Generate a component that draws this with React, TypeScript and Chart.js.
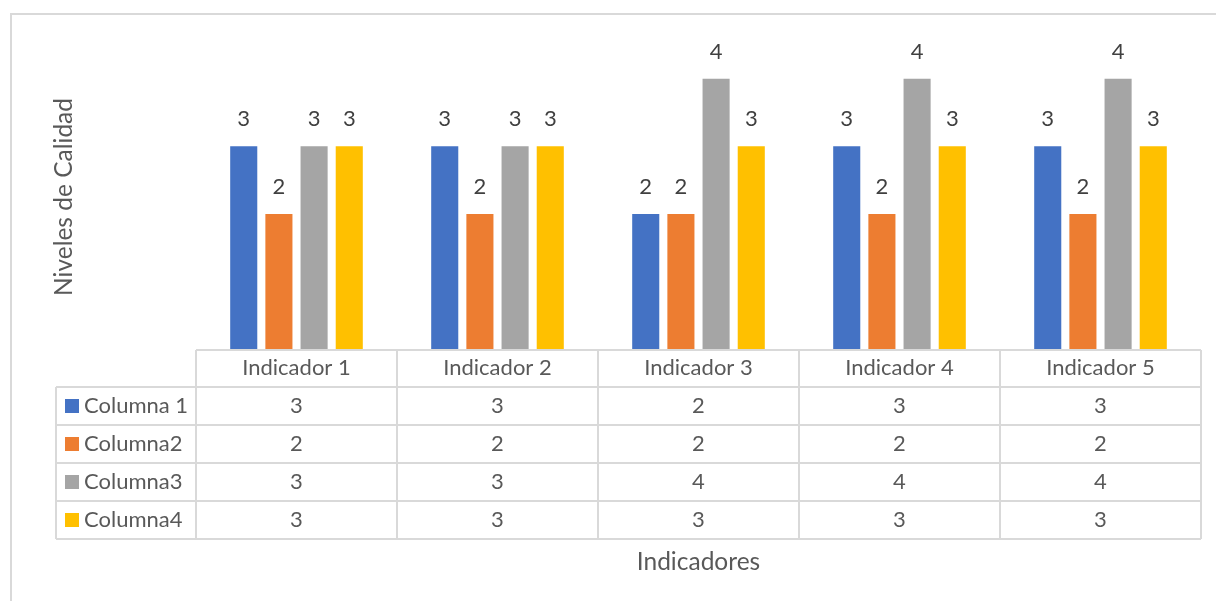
import React, { useEffect, useRef } from "react";
import { Chart, registerables } from "chart.js";

Chart.register(...registerables);

// Chart data
const categories = ["Indicador 1", "Indicador 2", "Indicador 3", "Indicador 4", "Indicador 5"];
const seriesNames = ["Columna 1", "Columna2", "Columna3", "Columna4"];
const columna1 = [3, 3, 2, 3, 3];
const columna2 = [2, 2, 2, 2, 2];
const columna3 = [3, 3, 4, 4, 4];
const columna4 = [3, 3, 3, 3, 3];
const seriesColors = ["#4472C4", "#ED7D31", "#A5A5A5", "#FFC000"];
const yAxisTitle = "Niveles de Calidad";
const xAxisTitle = "Indicadores";

const FONT = "Lato, 'Open Sans', sans-serif";
const GRID = "#D9D9D9";
const TEXT = "#595959";
const LABEL = "#404040";

const W = 1216;
const H = 601;

// Frame, value labels, axis titles and the data table under the plot
const excelDecor = {
  id: "excelDecor",
  beforeDraw(chart: any) {
    const { ctx, width, height } = chart;
    ctx.save();
    ctx.fillStyle = "#FFFFFF";
    ctx.fillRect(0, 0, width, height);
    ctx.strokeStyle = GRID;
    ctx.lineWidth = 2;
    ctx.strokeRect(11, 14, width + 40, height + 40);
    ctx.restore();
  },
  afterDatasetsDraw(chart: any) {
    const { ctx } = chart;
    ctx.save();
    ctx.fillStyle = LABEL;
    ctx.font = `22px ${FONT}`;
    ctx.textAlign = "center";
    ctx.textBaseline = "alphabetic";
    chart.data.datasets.forEach((ds: any, i: number) => {
      const meta = chart.getDatasetMeta(i);
      meta.data.forEach((bar: any, j: number) => {
        ctx.fillText(String(ds.data[j]), bar.x, bar.y - 20);
      });
    });
    ctx.restore();
  },
  afterDraw(chart: any) {
    const { ctx, chartArea } = chart;
    const xScale = chart.scales.x;
    const n = chart.data.labels.length;
    const left = chartArea.left;
    const right = chartArea.right;
    const cw = (right - left) / n;
    const top = chartArea.bottom + 1;
    const headerH = 37;
    const rowH = 38;
    const legendLeft = 56;
    const rows = chart.data.datasets.length;
    const bottom = top + headerH + rows * rowH;

    ctx.save();
    ctx.strokeStyle = GRID;
    ctx.lineWidth = 2;
    ctx.beginPath();
    ctx.moveTo(left, top);
    ctx.lineTo(right, top);
    for (let k = 0; k <= rows; k++) {
      const y = top + headerH + k * rowH;
      ctx.moveTo(legendLeft, y);
      ctx.lineTo(right, y);
    }
    ctx.moveTo(legendLeft, top + headerH);
    ctx.lineTo(legendLeft, bottom);
    for (let i = 0; i <= n; i++) {
      const x = left + i * cw;
      ctx.moveTo(x, top);
      ctx.lineTo(x, bottom);
    }
    ctx.stroke();

    // header cells
    ctx.fillStyle = TEXT;
    ctx.font = `22px ${FONT}`;
    ctx.textAlign = "center";
    ctx.textBaseline = "alphabetic";
    chart.data.labels.forEach((lab: string, i: number) => {
      ctx.fillText(lab, xScale.getPixelForValue(i), top + 25);
    });

    // series rows
    chart.data.datasets.forEach((ds: any, r: number) => {
      const rowTop = top + headerH + r * rowH;
      ctx.fillStyle = ds.backgroundColor;
      ctx.fillRect(65, rowTop + 12, 14, 14);
      ctx.fillStyle = TEXT;
      ctx.textAlign = "left";
      ctx.fillText(ds.label, 84, rowTop + 26);
      ctx.textAlign = "center";
      ds.data.forEach((v: number, i: number) => {
        ctx.fillText(String(v), xScale.getPixelForValue(i), rowTop + 26);
      });
    });

    // axis titles
    ctx.font = `24.5px ${FONT}`;
    ctx.fillStyle = TEXT;
    ctx.textAlign = "center";
    ctx.fillText(xAxisTitle, (left + right) / 2, 570);
    ctx.translate(72, (chartArea.top + chartArea.bottom) / 2);
    ctx.rotate(-Math.PI / 2);
    ctx.fillText(yAxisTitle, 0, 0);
    ctx.restore();
  },
};

export default function App() {
  const canvasRef = useRef<HTMLCanvasElement | null>(null);

  useEffect(() => {
    const canvas = canvasRef.current;
    if (!canvas) return;
    const seriesValues = [columna1, columna2, columna3, columna4];
    const chart = new Chart(canvas, {
      type: "bar",
      data: {
        labels: categories,
        datasets: seriesNames.map((name, i) => ({
          label: name,
          data: seriesValues[i],
          backgroundColor: seriesColors[i],
          borderWidth: 0,
          categoryPercentage: 0.7,
          barPercentage: 0.77,
        })),
      },
      options: {
        responsive: false,
        animation: false,
        devicePixelRatio: 1,
        layout: { padding: { left: 196, right: 15, top: 45, bottom: 252 } },
        plugins: {
          legend: { display: false },
          title: { display: false },
          tooltip: { enabled: false },
        },
        scales: {
          x: { display: false },
          y: { display: false, min: 0, max: 4.5 },
        },
      },
      plugins: [excelDecor],
    });
    return () => chart.destroy();
  }, []);

  return (
    <div style={{ position: "fixed", left: 0, top: 0, width: W, height: H, background: "#fff" }}>
      <canvas ref={canvasRef} width={W} height={H} style={{ display: "block", width: W, height: H }} />
    </div>
  );
}
